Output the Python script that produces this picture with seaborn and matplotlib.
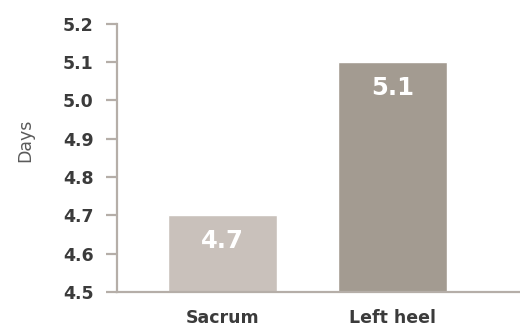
import matplotlib
matplotlib.use("Agg")
import matplotlib.pyplot as plt
import seaborn as sns
import pandas as pd

# Average time to healing by site
sites = ["Sacrum", "Left heel"]
days = [4.7, 5.1]
bar_colors = ["#c9c1bb", "#a39b91"]
y_ticks = [4.5, 4.6, 4.7, 4.8, 4.9, 5.0, 5.1, 5.2]

sns.set_theme(style="white")
plt.rcParams["font.family"] = ["DejaVu Sans"]

df = pd.DataFrame({"site": sites, "days": days})

fig = plt.figure(figsize=(5.2, 3.29), dpi=100)
ax = fig.add_axes([0.225, 0.1125, 0.775, 0.815])

sns.barplot(data=df, x="site", y="days", hue="site", palette=bar_colors,
            width=0.64, legend=False, ax=ax, saturation=1)

ax.set_ylim(4.5, 5.2)
ax.set_xlim(-0.62, 1.75)
ax.set_yticks(y_ticks)
ax.set_yticklabels([f"{t:.1f}" for t in y_ticks])

axis_color = "#b5aea8"
for side in ["top", "right"]:
    ax.spines[side].set_visible(False)
for side in ["left", "bottom"]:
    ax.spines[side].set_color(axis_color)
    ax.spines[side].set_linewidth(1.6)

ax.tick_params(axis="y", length=8, width=1.6, color=axis_color, pad=9,
               labelsize=12.5, labelcolor="#3b3b3b", left=True)
ax.tick_params(axis="x", length=0, pad=12, labelsize=12.5, labelcolor="#3b3b3b")
for lbl in ax.get_yticklabels() + ax.get_xticklabels():
    lbl.set_fontweight("bold")

ax.set_xlabel("")
ax.set_ylabel("Days", fontsize=12.5, color="#5a5a5a")
ax.yaxis.set_label_coords(-0.205, 0.567)

for i, v in enumerate(days):
    ax.annotate(f"{v:.1f}", xy=(i, v), xytext=(0, -18.5), textcoords="offset points",
                ha="center", va="center", color="white", fontsize=17.5,
                fontweight="bold")

fig.savefig("out.png", dpi=100)
